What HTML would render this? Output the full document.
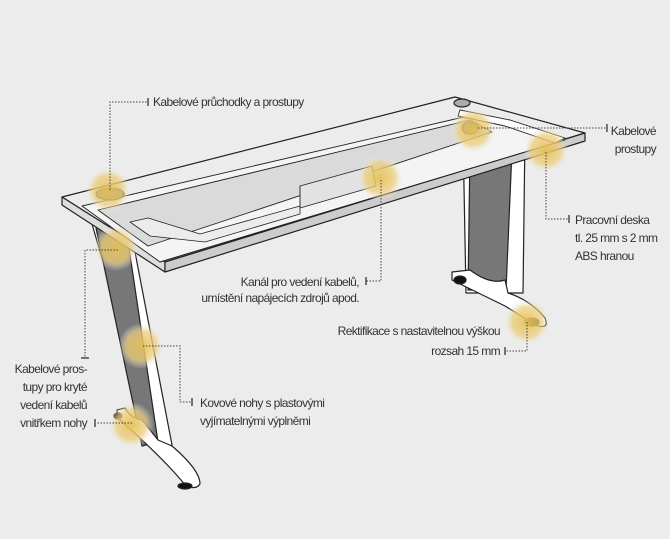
<!DOCTYPE html>
<html><head><meta charset="utf-8"><style>
html,body{margin:0;padding:0;background:#ececec}
svg{display:block}
text{font-family:"Liberation Sans",sans-serif;font-size:12px;fill:#333;letter-spacing:-0.6px}
</style></head><body>
<svg width="670" height="539" viewBox="0 0 670 539" xmlns="http://www.w3.org/2000/svg">
<defs>
<radialGradient id="g"><stop offset="0" stop-color="#e6bf55" stop-opacity="0.95"/><stop offset="0.65" stop-color="#ecce7e" stop-opacity="0.75"/><stop offset="1" stop-color="#ececec" stop-opacity="0"/></radialGradient>
</defs>
<rect width="670" height="539" fill="#ececec"/>
<g stroke="#222" stroke-width="1.2" stroke-linejoin="round">
<!-- right leg -->
<polygon points="463,133 525,133 523,293 466,293" fill="#fff"/>
<polygon points="470,150 512,150 506,290 468,290" fill="#777"/>
<path d="M452,272 L470,270 Q490,285 505,280 L508,293 Q530,300 545,318 Q550,330 535,325 Q520,315 505,306 L452,280 Z" fill="#fff"/>
<ellipse cx="460" cy="280" rx="6" ry="4" fill="#111"/>
<ellipse cx="532" cy="322" rx="7" ry="4" fill="#111"/>
<!-- left leg -->
<polygon points="92,224 130,226 172,445 158,450" fill="#fff"/>
<polygon points="96,228 126,228 158,442 142,446" fill="#777"/>
<path d="M117,410 L125,408 Q130,418 142,420 L158,440 L172,446 Q200,470 200,484 Q196,490 186,486 Q165,460 118,418 Z" fill="#fff"/>
<ellipse cx="185" cy="486" rx="7" ry="3" fill="#111"/>
<ellipse cx="118" cy="416" rx="4" ry="3" fill="#111"/>
<!-- desk top -->
<polygon points="62,197 455,97 585,133 165,262" fill="#ececec"/>
<polygon points="62,197 165,262 165,272 62,205" fill="#ddd"/>
<polygon points="165,262 585,133 585,141 165,272" fill="#ccc"/>
<!-- frame / channel -->
<polygon points="82,206 468,116 565,140 160,262" fill="#f4f4f4" stroke-width="0.9"/>
<polygon points="98,210 470,120 492,132 148,246" fill="#dadada" stroke-width="0.9"/>
<polygon points="130,222 148,218 200,234 300,206 300,214 205,242 150,236" fill="#ececec" stroke-width="0.8"/>
<polygon points="300,186 372,166 376,186 300,208" fill="#e2e2e2" stroke-width="0.9"/>
<line x1="160" y1="262" x2="565" y2="140" stroke-width="1"/>
<polygon points="460,110 510,120 565,138 555,143 505,126 458,116" fill="#fff" stroke-width="0.9"/>
<ellipse cx="462" cy="103" rx="8" ry="4" fill="#aaa"/>
<ellipse cx="110" cy="194" rx="14" ry="6" fill="#7a7060"/>
<ellipse cx="470" cy="128" rx="8" ry="6" fill="#7a7060"/>
</g>
<!-- glows -->
<g fill="url(#g)">
<circle cx="108" cy="190" r="23"/><circle cx="116" cy="248" r="23"/><circle cx="380" cy="178" r="23"/>
<circle cx="473" cy="130" r="23"/><circle cx="546" cy="150" r="23"/><circle cx="141" cy="346" r="23"/>
<circle cx="131" cy="425" r="23"/><circle cx="527" cy="322" r="23"/>
</g>
<!-- leaders -->
<g stroke="#444" stroke-width="1" stroke-dasharray="1.5,1.5" fill="none">
<path d="M110,190 V102 H147"/>
<path d="M478,128 H606"/>
<path d="M546,152 V219 H568"/>
<path d="M381,180 V281 H366"/>
<path d="M527,322 V351 H505"/>
<path d="M143,346 H180 V402 H192"/>
<path d="M118,250 H85 V358"/>
<path d="M132,423 H96"/>
</g>
<g stroke="#333" stroke-width="1.3">
<line x1="148" y1="98" x2="148" y2="106"/><line x1="607" y1="124" x2="607" y2="132"/>
<line x1="569" y1="215" x2="569" y2="223"/><line x1="366" y1="277" x2="366" y2="285"/>
<line x1="505" y1="347" x2="505" y2="355"/><line x1="192" y1="398" x2="192" y2="406"/>
<line x1="81" y1="358" x2="89" y2="358"/><line x1="95" y1="419" x2="95" y2="427"/>
</g>
<text x="153" y="106">Kabelové průchodky a prostupy</text>
<text x="656" y="135" text-anchor="end">Kabelové</text>
<text x="656" y="153" text-anchor="end">prostupy</text>
<text x="575" y="224">Pracovní deska</text>
<text x="575" y="242">tl. 25 mm s 2 mm</text>
<text x="575" y="260">ABS hranou</text>
<text x="359" y="286" text-anchor="end">Kanál pro vedení kabelů,</text>
<text x="359" y="302" text-anchor="end">umístění napájecích zdrojů apod.</text>
<text x="500" y="335" text-anchor="end">Rektifikace s nastavitelnou výškou</text>
<text x="500" y="355" text-anchor="end">rozsah 15 mm</text>
<text x="200" y="407">Kovové nohy s plastovými</text>
<text x="200" y="425">vyjímatelnými výplněmi</text>
<text x="87" y="373" text-anchor="end">Kabelové pros-</text>
<text x="87" y="391" text-anchor="end">tupy pro kryté</text>
<text x="87" y="409" text-anchor="end">vedení kabelů</text>
<text x="87" y="427" text-anchor="end">vnitřkem nohy</text>
</svg>
</body></html>
